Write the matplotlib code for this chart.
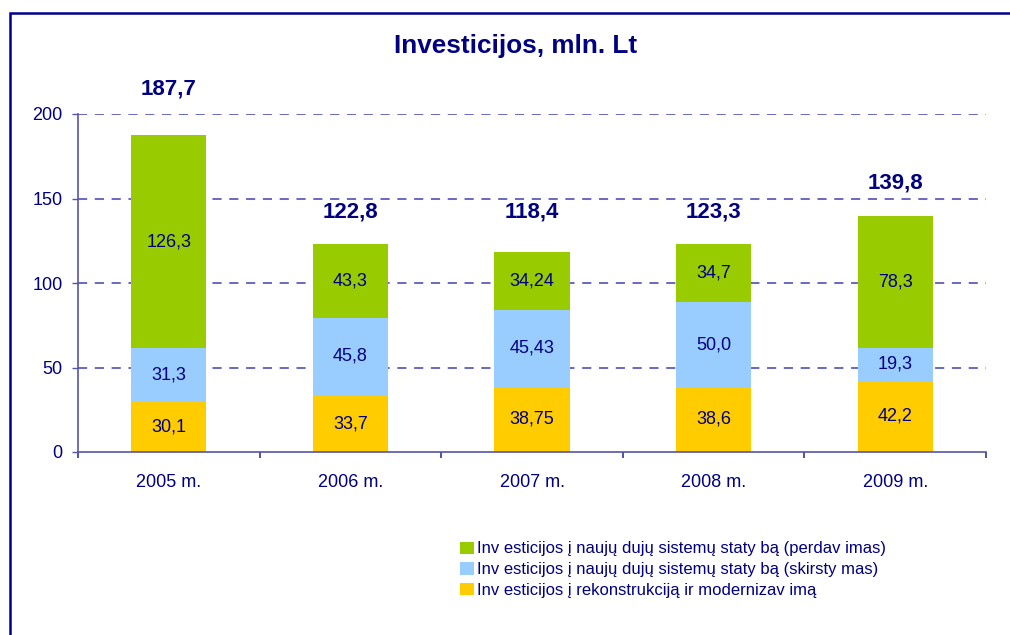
import matplotlib
matplotlib.use("Agg")
import matplotlib.pyplot as plt
from matplotlib.patches import Rectangle, Patch
import numpy as np

plt.rcParams['font.family'] = ['Liberation Sans', 'DejaVu Sans']

categories = ["2005 m.", "2006 m.", "2007 m.", "2008 m.", "2009 m."]
reconstruction = [30.1, 33.7, 38.75, 38.6, 42.2]
distribution = [31.3, 45.8, 45.43, 50.0, 19.3]
transmission = [126.3, 43.3, 34.24, 34.7, 78.3]
totals = [187.7, 122.8, 118.4, 123.3, 139.8]

recon_labels = ["30,1", "33,7", "38,75", "38,6", "42,2"]
distr_labels = ["31,3", "45,8", "45,43", "50,0", "19,3"]
trans_labels = ["126,3", "43,3", "34,24", "34,7", "78,3"]
total_labels = ["187,7", "122,8", "118,4", "123,3", "139,8"]

legend_labels = [
    "Inv esticijos į naujų dujų sistemų staty bą (perdav imas)",
    "Inv esticijos į naujų dujų sistemų staty bą (skirsty mas)",
    "Inv esticijos į rekonstrukciją ir modernizav imą",
]
title = "Investicijos, mln. Lt"
yticks = [0, 50, 100, 150, 200]

# styling
NAVY = "#000080"
C_GREEN = "#99CC00"
C_BLUE = "#99CCFF"
C_YELLOW = "#FFCC00"
AXC = "#5555AA"
GRIDC = "#4040B4"
total_offsets_px = [46, 32, 40, 32, 33]

W, H = 1010, 635
fig = plt.figure(figsize=(W / 100, H / 100), dpi=100)
fig.patch.set_facecolor("white")

# outer frame
fig.add_artist(Rectangle((10 / W, -0.05), 1.2, (H - 13) / H + 0.05,
                         transform=fig.transFigure, fill=False,
                         edgecolor="#000090", linewidth=1.8, zorder=0))

ax = fig.add_axes([78 / W, (H - 452) / H, (986 - 78) / W, (452 - 114) / H])
x = np.arange(len(categories))
bw = 0.413

b1 = ax.bar(x, reconstruction, bw, color=C_YELLOW, zorder=3)
b2 = ax.bar(x, distribution, bw, bottom=reconstruction, color=C_BLUE, zorder=3)
bottom3 = np.array(reconstruction) + np.array(distribution)
b3 = ax.bar(x, transmission, bw, bottom=bottom3, color=C_GREEN, zorder=3)

fs = 13
for bars, labs in ((b1, recon_labels), (b2, distr_labels), (b3, trans_labels)):
    ax.bar_label(bars, labels=labs, label_type="center", color=NAVY,
                 fontsize=fs, zorder=4)

for i, (t, lab) in enumerate(zip(totals, total_labels)):
    ax.annotate(lab, xy=(x[i], t), xytext=(0, total_offsets_px[i] * 0.72),
                textcoords="offset points", ha="center", va="center",
                fontsize=16, fontweight="bold", color=NAVY,
                annotation_clip=False)

ax.set_xlim(-0.5, len(categories) - 0.5)
ax.set_ylim(0, 200)
ax.set_yticks(yticks)
ax.set_yticklabels([str(v) for v in yticks])
ax.set_xticks(x)
ax.set_xticklabels(categories)
ax.set_xticks(np.arange(-0.5, len(categories)), minor=True)

ax.tick_params(axis="x", which="major", length=0, pad=15.5, labelsize=fs,
               labelcolor=NAVY)
ax.tick_params(axis="x", which="minor", length=4.5, width=1.2, color="#333399",
               direction="out")
ax.tick_params(axis="y", length=4.5, width=1.0, color=AXC, pad=6.5,
               labelsize=fs, labelcolor=NAVY)

for s in ("top", "right"):
    ax.spines[s].set_visible(False)
for s in ("left", "bottom"):
    ax.spines[s].set_color(AXC)
    ax.spines[s].set_linewidth(1.2)
ax.spines["bottom"].set_zorder(5)

for v in yticks[1:]:
    ax.axhline(v, color=GRIDC, linewidth=1.1, linestyle=(0, (6, 5)), zorder=1)

fig.text(516 / W, 1 - 46 / H, title, ha="center", va="center",
         fontsize=18.8, fontweight="bold", color=NAVY)

lfs = 12
handles = [Patch(facecolor=C_GREEN), Patch(facecolor=C_BLUE),
           Patch(facecolor=C_YELLOW)]
leg = fig.legend(handles, legend_labels, loc="upper left",
                 bbox_to_anchor=(460 / W, 1 - 541.5 / H), frameon=False,
                 fontsize=lfs, handlelength=0.84, handleheight=0.75,
                 handletextpad=0.18, labelspacing=0.35, borderpad=0,
                 borderaxespad=0)
for t in leg.get_texts():
    t.set_color(NAVY)

fig.savefig("out.png", dpi=100)
